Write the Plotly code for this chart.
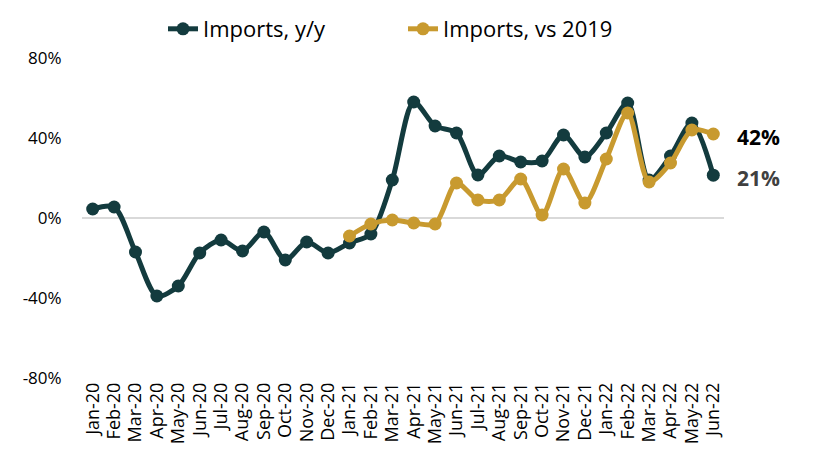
import plotly.graph_objects as go

months = ["Jan-20", "Feb-20", "Mar-20", "Apr-20", "May-20", "Jun-20", "Jul-20", "Aug-20",
          "Sep-20", "Oct-20", "Nov-20", "Dec-20", "Jan-21", "Feb-21", "Mar-21", "Apr-21",
          "May-21", "Jun-21", "Jul-21", "Aug-21", "Sep-21", "Oct-21", "Nov-21", "Dec-21",
          "Jan-22", "Feb-22", "Mar-22", "Apr-22", "May-22", "Jun-22"]

imports_yy = [4.5, 5.5, -17, -39, -34, -17.5, -11, -16.5, -7, -21, -12, -17.5, -12.5, -8, 19,
              58, 46, 42.5, 21.5, 31, 28, 28.5, 41.5, 30.5, 42.5, 57.5, 19, 31, 47.5, 21.4]

vs2019_months = months[12:]
imports_vs2019 = [-9, -3, -1, -2.5, -3, 17.5, 9, 9, 19.5, 1.5, 24.5, 7.5, 29.5, 52.5, 18, 27.5, 44, 42]

y_ticks = [-80, -40, 0, 40, 80]

DARK = "#133B3E"
GOLD = "#C89A2F"
FONT = "Open Sans"

# page body has an 8px default margin; the figure is sized to fit the window
W, H = 805, 444

fig = go.Figure()
fig.add_trace(go.Scatter(
    x=months, y=imports_yy, name="Imports, y/y", mode="lines+markers",
    line=dict(color=DARK, width=5, shape="spline", smoothing=0.8),
    marker=dict(color=DARK, size=13),
))
fig.add_trace(go.Scatter(
    x=vs2019_months, y=imports_vs2019, name="Imports, vs 2019", mode="lines+markers",
    line=dict(color=GOLD, width=5, shape="spline", smoothing=0.8),
    marker=dict(color=GOLD, size=13),
))

fig.add_annotation(x=vs2019_months[-1], y=imports_vs2019[-1], text="<b>%d%%</b>" % round(imports_vs2019[-1]),
                   showarrow=False, xanchor="left", xshift=22, yshift=-3,
                   font=dict(family=FONT, size=21, color="#000000"))
fig.add_annotation(x=months[-1], y=imports_yy[-1], text="<b>%d%%</b>" % round(imports_yy[-1]),
                   showarrow=False, xanchor="left", xshift=22, yshift=-3,
                   font=dict(family=FONT, size=21, color="#404040"))

fig.update_layout(
    width=W, height=H,
    margin=dict(l=74, r=89, t=50, b=74, autoexpand=False),
    paper_bgcolor="white", plot_bgcolor="white",
    font=dict(family=FONT, color="#000000"),
    showlegend=True,
    legend=dict(orientation="h", x=0.5, xanchor="center", y=1.0, yref="container",
                yanchor="top", font=dict(family=FONT, size=22, color="#000000"),
                entrywidth=195, entrywidthmode="pixels", traceorder="normal",
                tracegroupgap=0),
)
fig.update_xaxes(
    type="category", categoryorder="array", categoryarray=months,
    range=[-0.5, len(months) - 0.5], automargin=False,
    tickmode="array", tickvals=months, ticktext=months,
    showgrid=False, zeroline=False, showline=False,
    tickangle=-90, tickfont=dict(family=FONT, size=18, color="#000000"),
    ticks="",
)
fig.update_yaxes(
    range=[-80, 80], tickvals=y_ticks, ticktext=["%d%%" % v for v in y_ticks],
    automargin=False,
    showgrid=False, zeroline=True, zerolinecolor="#D9D9D9", zerolinewidth=2,
    showline=False, ticks="outside", ticklen=16, tickcolor="rgba(0,0,0,0)",
    tickfont=dict(family=FONT, size=17, color="#000000"),
)

fig.write_html("out.html")
